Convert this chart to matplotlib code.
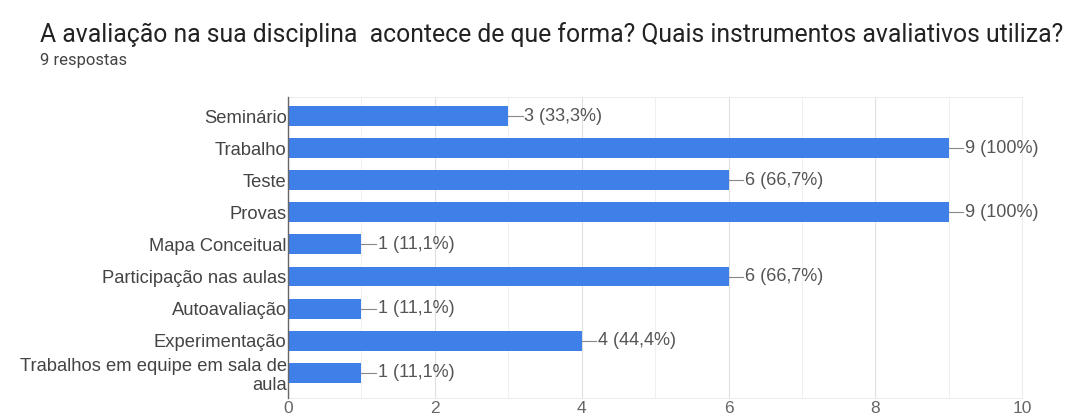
import numpy as np
import matplotlib.pyplot as plt

# dados do gráfico
categorias = ['Seminário', 'Trabalho', 'Teste', 'Provas', 'Mapa Conceitual',
              'Participação nas aulas', 'Autoavaliação', 'Experimentação',
              'Trabalhos em equipe em sala de\naula']
contagens = [3, 9, 6, 9, 1, 6, 1, 4, 1]
rotulos = ['3 (33,3%)', '9 (100%)', '6 (66,7%)', '9 (100%)', '1 (11,1%)',
           '6 (66,7%)', '1 (11,1%)', '4 (44,4%)', '1 (11,1%)']
xticks = [0, 2, 4, 6, 8, 10]

titulo = 'A avaliação na sua disciplina  acontece de que forma? Quais instrumentos avaliativos utiliza?'
subtitulo = '9 respostas'

plt.rcParams['font.family'] = ['Liberation Sans', 'DejaVu Sans']

fig = plt.figure(figsize=(10.67, 4.17), dpi=100)
ax = fig.add_axes([0.27, 0.046, 0.688, 0.721])

y = np.arange(len(categorias))
azul = '#3f7fe8'
ax.barh(y, contagens, height=0.62, color=azul, zorder=3)

# rótulos com linha de ligação
for yi, v, txt in zip(y, contagens, rotulos):
    ax.plot([v, v + 0.2], [yi, yi], color='#888888', lw=0.8, zorder=3)
    ax.text(v + 0.22, yi, txt, va='center', ha='left', fontsize=13, color='#555555')

ax.set_xlim(0, 10)
ax.set_ylim(len(categorias) - 1 + 0.78, -0.59)
ax.set_yticks(y)
ax.set_yticklabels(categorias, fontsize=13.2, color='#444444', linespacing=1.15)
ax.set_xticks(xticks)
ax.set_xticklabels([str(t) for t in xticks], fontsize=12.5, color='#666666')
ax.set_xticks(np.arange(0, 11, 1), minor=True)

ax.grid(axis='x', which='major', color='#e0e0e0', lw=0.8, zorder=0)
ax.grid(axis='x', which='minor', color='#f0f0f0', lw=0.8, zorder=0)
ax.tick_params(axis='both', which='both', length=0)
ax.tick_params(axis='y', pad=1)
ax.tick_params(axis='x', pad=2)

for s in ['top', 'right', 'bottom']:
    ax.spines[s].set_color('#eeeeee')
    ax.spines[s].set_linewidth(0.8)
ax.spines['left'].set_color('#666666')
ax.spines['left'].set_linewidth(1.0)
ax.spines['left'].set_zorder(4)

fig.text(40 / 1067, 1 - 35 / 417, titulo, fontsize=17.8, color='#222222',
         va='center', ha='left', family=['Roboto', 'DejaVu Sans'])
fig.text(40 / 1067, 1 - 60 / 417, subtitulo, fontsize=12, color='#444444',
         va='center', ha='left', family=['Roboto', 'DejaVu Sans'])

fig.savefig('out.png', dpi=100)
